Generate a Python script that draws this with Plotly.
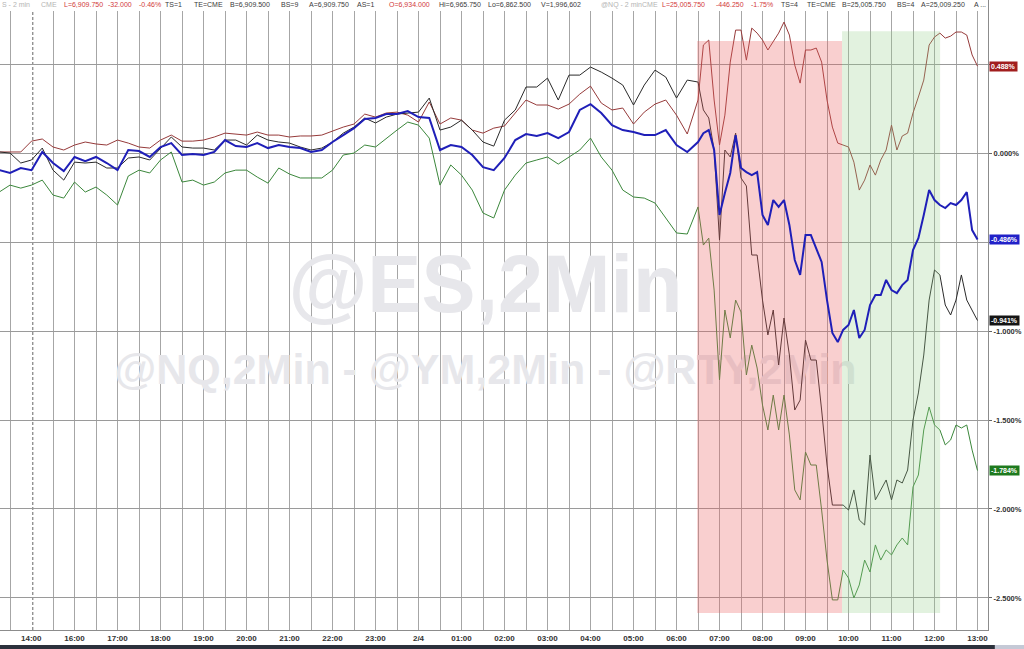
import numpy as np
import plotly.graph_objects as go

# ---------------- data ----------------
# x positions are "session hours": 0 = 14:00 label, 1 = 16:00, 2 = 17:00 ... 22 = 13:00
x_coarse = np.arange(65) * 0.25 - 0.75          # -0.75 .. 15.25 (15 min steps)
x_fine = 15.5 + np.arange(53) * 0.125           # 15.5 .. 22.0 (7.5 min steps)
x_vals = np.concatenate([x_coarse, x_fine])

tick_pos = list(range(0, 23))
tick_labels = ["14:00", "16:00", "17:00", "18:00", "19:00", "20:00", "21:00", "22:00",
               "23:00", "2/4", "01:00", "02:00", "03:00", "04:00", "05:00", "06:00",
               "07:00", "08:00", "09:00", "10:00", "11:00", "12:00", "13:00"]

es_pct = [-0.096, -0.112, -0.084, -0.096, 0.006, -0.056, -0.101, -0.022, -0.045, -0.022,
          -0.056, -0.096, 0.017, 0.011, -0.022, 0.034, 0.056, -0.011, -0.006, -0.011,
          0.006, 0.073, 0.039, 0.034, 0.056, 0.028, 0.045, 0.034, 0.028, 0.006,
          0.017, 0.062, 0.101, 0.140, 0.191, 0.197, 0.219, 0.219, 0.236, 0.202,
          0.197, 0.017, 0.045, 0.034, -0.011, -0.079, -0.096, -0.028, 0.073, 0.107,
          0.096, 0.112, 0.084, 0.118, 0.242, 0.275, 0.225, 0.157, 0.129, 0.118,
          0.101, 0.101, 0.129, 0.045, 0.006,
          0.062, 0.112, 0.129, 0.017, -0.348, -0.225, -0.112, 0.101, -0.084, -0.107,
          -0.124, -0.107, -0.348, -0.404, -0.264, -0.303, -0.264, -0.404, -0.601, -0.685,
          -0.461, -0.461, -0.534, -0.612, -0.826, -1.011, -1.062, -0.994, -0.966, -0.882,
          -1.039, -0.994, -0.854, -0.798, -0.798, -0.713, -0.770, -0.787, -0.742, -0.713,
          -0.545, -0.478, -0.348, -0.208, -0.264, -0.292, -0.309, -0.281, -0.292, -0.264,
          -0.219, -0.433, -0.486]

ym_pct = [0.006, 0.006, 0.006, 0.067, 0.079, 0.034, 0.017, 0.045, 0.062, 0.051,
          0.045, 0.073, 0.056, 0.034, 0.028, 0.073, 0.101, 0.067, 0.067, 0.073,
          0.090, 0.112, 0.107, 0.101, 0.118, 0.101, 0.101, 0.090, 0.096, 0.096,
          0.101, 0.124, 0.146, 0.163, 0.219, 0.202, 0.225, 0.230, 0.213, 0.174,
          0.287, 0.163, 0.197, 0.185, 0.129, 0.112, 0.140, 0.152, 0.225, 0.298,
          0.270, 0.270, 0.247, 0.275, 0.331, 0.376, 0.281, 0.242, 0.253, 0.163,
          0.230, 0.275, 0.298, 0.213, 0.107,
          0.298, 0.607, 0.635, 0.298, 0.045, 0.213, 0.511, 0.691, 0.691, 0.522,
          0.702, 0.674, 0.635, 0.579, 0.624, 0.674, 0.736, 0.663, 0.494, 0.393,
          0.579, 0.579, 0.590, 0.511, 0.298, 0.146, 0.056, 0.045, 0.034, -0.051,
          -0.208, -0.152, -0.067, -0.124, -0.039, 0.017, 0.157, 0.017, 0.096, 0.112,
          0.225, 0.315, 0.410, 0.607, 0.652, 0.674, 0.646, 0.657, 0.680, 0.680,
          0.663, 0.551, 0.488]

rty_pct = [0.006, 0.000, -0.056, -0.039, 0.028, -0.096, -0.152, -0.051, -0.056, -0.051,
           -0.084, -0.084, -0.028, -0.022, -0.039, 0.028, 0.090, 0.034, 0.028, 0.028,
           0.017, 0.073, 0.073, 0.045, 0.101, 0.073, 0.062, 0.056, 0.034, 0.017,
           0.028, 0.062, 0.112, 0.146, 0.197, 0.169, 0.202, 0.219, 0.225, 0.230,
           0.309, 0.129, 0.146, 0.185, 0.129, 0.062, 0.039, 0.185, 0.242, 0.371,
           0.371, 0.421, 0.298, 0.438, 0.438, 0.483, 0.455, 0.421, 0.382, 0.270,
           0.382, 0.466, 0.427, 0.309, 0.410,
           0.399, 0.242, 0.197, 0.017, -0.489, 0.017, -0.022, 0.112, -0.140, -0.185,
           -0.573, -0.573, -0.826, -1.022, -0.882, -1.191, -0.927, -1.135, -1.444, -1.388,
           -1.051, -1.163, -1.163, -1.444, -1.753, -1.978, -1.978, -1.978, -2.006, -1.893,
           -2.062, -2.090, -1.697, -1.949, -1.893, -1.837, -1.949, -1.837, -1.854, -1.781,
           -1.500, -1.348, -1.135, -0.826, -0.657, -0.685, -0.854, -0.910, -0.826, -0.685,
           -0.826, -0.882, -0.941]

nq_pct = [-0.219, -0.180, -0.197, -0.180, -0.152, -0.236, -0.253, -0.163, -0.219, -0.191,
          -0.236, -0.292, -0.129, -0.096, -0.112, -0.039, 0.006, -0.163, -0.152, -0.180,
          -0.163, -0.112, -0.096, -0.096, -0.135, -0.169, -0.084, -0.118, -0.140, -0.140,
          -0.140, -0.096, -0.011, 0.000, 0.045, 0.034, 0.084, 0.129, 0.174, 0.157,
          0.084, -0.180, -0.067, -0.124, -0.208, -0.337, -0.365, -0.208, -0.124, -0.056,
          -0.039, -0.022, -0.062, -0.022, 0.017, 0.084, -0.022, -0.096, -0.208, -0.247,
          -0.253, -0.281, -0.365, -0.449, -0.455,
          -0.303, -0.517, -0.478, -0.770, -1.275, -0.882, -1.039, -0.826, -0.893, -1.247,
          -1.079, -1.208, -1.416, -1.556, -1.360, -1.556, -1.360, -1.584, -1.893, -1.949,
          -1.680, -1.753, -1.753, -2.006, -2.287, -2.511, -2.511, -2.343, -2.388, -2.500,
          -2.427, -2.287, -2.354, -2.202, -2.287, -2.230, -2.258, -2.202, -2.163, -2.202,
          -1.876, -1.809, -1.556, -1.427, -1.528, -1.556, -1.640, -1.612, -1.528, -1.545,
          -1.528, -1.669, -1.784]

y_ticks = [0.5, 0.0, -0.5, -1.0, -1.5, -2.0, -2.5]
y_tick_labels = ["", "0.000%", "", "-1.000%", "-1.500%", "-2.000%", "-2.500%"]

# highlighted periods (session-hour x, percent y)
red_zone = dict(x0=15.48, x1=18.85, y0=-2.584, y1=0.629)
green_zone = dict(x0=18.85, x1=21.13, y0=-2.584, y1=0.685)

# ---------------- styling ----------------
FONT = "Liberation Sans, Arial, sans-serif"
C_ES = "#1f1fb8"
C_YM = "#963a3a"
C_RTY = "#2a2a2a"
C_NQ = "#3b873b"
GRID = "#a6a6a6"
X_RANGE = [-0.733, 22.244]
Y_RANGE = [-2.68, 0.86]

fig = go.Figure()

# watermark (drawn first so it sits behind everything)
xc = (X_RANGE[0] + X_RANGE[1]) / 2 - 0.2
fig.add_trace(go.Scatter(x=[xc], y=[-0.781], mode="text", text=["<b>@ES,2Min</b>"],
                         textfont=dict(size=81, color="#e7e7eb", family=FONT),
                         hoverinfo="skip"))
fig.add_trace(go.Scatter(x=[xc], y=[-1.236], mode="text",
                         text=["<b>@NQ,2Min - @YM,2Min - @RTY,2Min</b>"],
                         textfont=dict(size=43, color="#e7e7eb", family=FONT),
                         hoverinfo="skip"))

for vals, col in [(ym_pct, C_YM), (rty_pct, C_RTY), (nq_pct, C_NQ)]:
    fig.add_trace(go.Scatter(x=x_vals, y=vals, mode="lines",
                             line=dict(color=col, width=1), hoverinfo="skip"))

# shaded zones (above comparison lines, below ES)
for z, col in [(red_zone, "rgba(236,96,96,0.30)"), (green_zone, "rgba(150,210,140,0.28)")]:
    fig.add_trace(go.Scatter(x=[z["x0"], z["x1"], z["x1"], z["x0"], z["x0"]],
                             y=[z["y0"], z["y0"], z["y1"], z["y1"], z["y0"]],
                             mode="lines", fill="toself", fillcolor=col,
                             line=dict(width=0), hoverinfo="skip"))

fig.add_trace(go.Scatter(x=x_vals, y=es_pct, mode="lines",
                         line=dict(color=C_ES, width=2), hoverinfo="skip"))

minor_vals = [v + 0.5 for v in range(-1, 22)]

fig.update_layout(
    width=1024, height=649,
    margin=dict(l=0, r=36, t=0, b=19),
    paper_bgcolor="white", plot_bgcolor="white",
    showlegend=False, hovermode=False,
    font=dict(family=FONT),
    xaxis=dict(range=X_RANGE, tickmode="array", tickvals=tick_pos[1:], ticktext=tick_labels[1:],
               showgrid=True, gridcolor=GRID, gridwidth=1, zeroline=False,
               ticks="", tickfont=dict(size=8, color="#333333", weight="bold"),
               showline=True, linecolor="#8c8c8c", linewidth=1,
               minor=dict(tickmode="array", tickvals=minor_vals, showgrid=True,
                          gridcolor=GRID, gridwidth=1)),
    yaxis=dict(range=Y_RANGE, side="right", tickmode="array", tickvals=y_ticks,
               ticktext=y_tick_labels, showgrid=True, gridcolor="#9a9a9a", gridwidth=1,
               zeroline=False, ticks="outside", ticklen=3, tickcolor="#666666",
               tickfont=dict(size=7.5, color="#333333", weight="bold"),
               showline=True, linecolor="#8c8c8c", linewidth=1),
)

# session-break dashed line + first label
fig.add_shape(type="line", x0=0.03, x1=0.03, y0=0, y1=1, xref="x", yref="paper",
              line=dict(color="#666666", width=1, dash="3px,2px"), layer="below")
fig.add_annotation(x=0, y=0, xref="x", yref="paper", yanchor="top", yshift=-2,
                   text=tick_labels[0], showarrow=False,
                   font=dict(size=8, color="#333333", family=FONT, weight="bold"))

# header band and header texts
fig.add_shape(type="rect", xref="paper", yref="paper", x0=0, x1=1, y0=1 - 11 / 630, y1=1,
              fillcolor="white", line=dict(width=0), layer="above")
GREY, RED, DARK = "#b4b4b4", "#d23a3a", "#3a3a3a"
header = [("S - 2 min", 0, GREY), ("CME", 39, GREY), ("L=6,909.750", 62, RED),
          ("-32.000", 106, RED), ("-0.46%", 137, RED), ("TS=1", 163, DARK),
          ("TE=CME", 192, DARK), ("B=6,909.500", 228, DARK), ("BS=9", 279, DARK),
          ("A=6,909.750", 307, DARK), ("AS=1", 355, DARK), ("O=6,934.000", 387, RED),
          ("Hi=6,965.750", 437, DARK), ("Lo=6,862.500", 486, DARK), ("V=1,996,602", 539, DARK),
          ("@NQ - 2 min", 599, GREY), ("CME", 640, GREY), ("L=25,005.750", 660, RED),
          ("-446.250", 714, RED), ("-1.75%", 749, RED), ("TS=4", 779, DARK),
          ("TE=CME", 805, DARK), ("B=25,005.750", 840, DARK), ("BS=4", 895, DARK),
          ("A=25,009.250", 919, DARK), ("A ...", 972, DARK)]
for txt, px, col in header:
    fig.add_annotation(x=px / 988, y=1, xref="paper", yref="paper", xanchor="left",
                       yanchor="top", yshift=1, text=txt, showarrow=False,
                       font=dict(size=7, color=col, family=FONT))

# last-value boxes on the right axis
last_boxes = [(ym_pct[-1], "#a11e1e"), (es_pct[-1], "#2121c8"),
              (rty_pct[-1], "#151515"), (nq_pct[-1], "#1e7a1e")]
for v, col in last_boxes:
    fig.add_annotation(x=1, y=v, xref="paper", yref="y", xanchor="left", xshift=1,
                       text=f"<b>{v:.3f}%</b>", showarrow=False, bgcolor=col,
                       borderpad=1, font=dict(size=7, color="white", family=FONT))

# bottom dark scrollbar strip
fig.add_shape(type="rect", xref="paper", yref="paper", x0=-0.01, x1=1.007,
              y0=-19 / 630, y1=-15 / 630, fillcolor="#2c313c", line=dict(width=0))
fig.add_shape(type="rect", xref="paper", yref="paper", x0=1.007, x1=1.04,
              y0=-19 / 630, y1=-15 / 630, fillcolor="#c5c9d6", line=dict(width=0))

fig.write_html("out.html", config={"displayModeBar": False},
               post_script="document.body.style.margin='0';")
